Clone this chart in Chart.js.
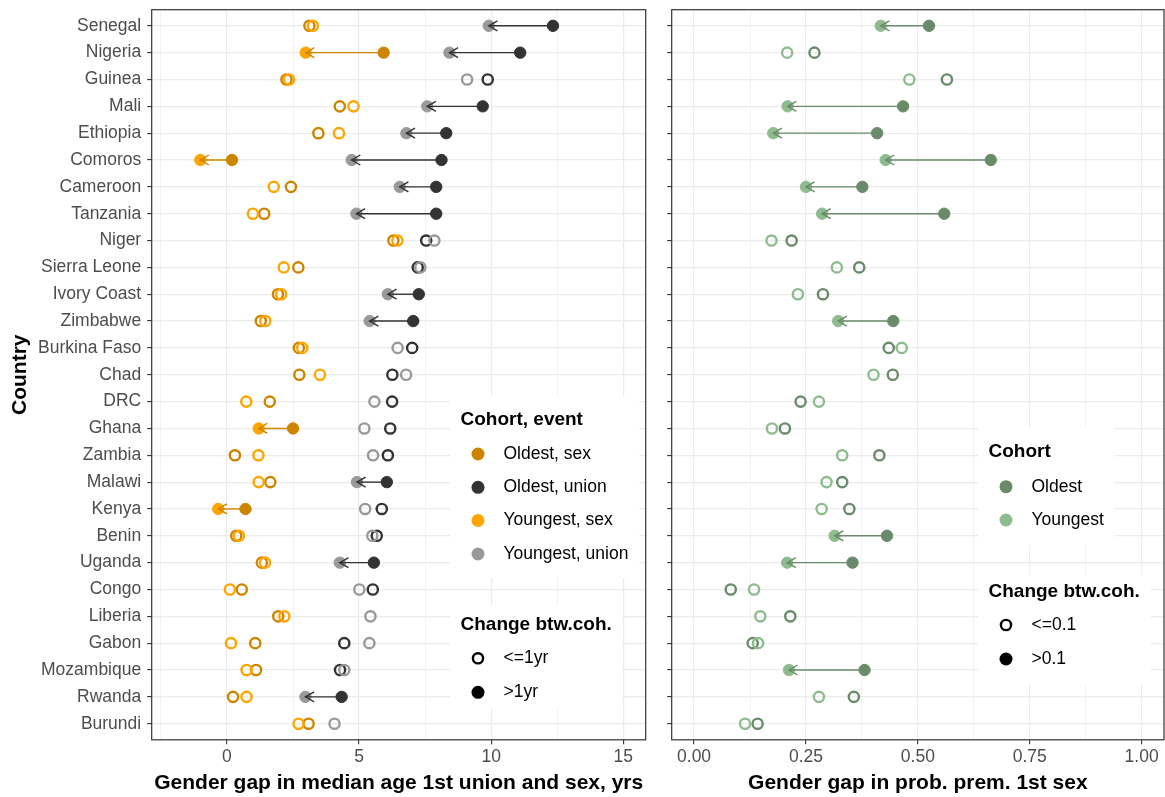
<!DOCTYPE html>
<html>
<head>
<meta charset="utf-8">
<script src="https://cdn.jsdelivr.net/npm/chart.js@4.4.1/dist/chart.umd.min.js"></script>
<style>
  html, body { margin: 0; padding: 0; background: #ffffff; }
  #wrap { position: relative; width: 1165px; height: 797px; overflow: hidden; background: #ffffff; }
  canvas { position: absolute; top: 0; }
  #ageChart { left: 0; }
  #premChart { left: 660px; }
</style>
</head>
<body>
<div id="wrap">
  <canvas id="ageChart" width="660" height="797"></canvas>
  <canvas id="premChart" width="505" height="797"></canvas>
</div>
<script>
// Countries, top to bottom
const countries = ['Senegal', 'Nigeria', 'Guinea', 'Mali', 'Ethiopia', 'Comoros', 'Cameroon', 'Tanzania',
  'Niger', 'Sierra Leone', 'Ivory Coast', 'Zimbabwe', 'Burkina Faso', 'Chad', 'DRC', 'Ghana', 'Zambia',
  'Malawi', 'Kenya', 'Benin', 'Uganda', 'Congo', 'Liberia', 'Gabon', 'Mozambique', 'Rwanda', 'Burundi'];

// Gender gap in median age at 1st sex (years)
const sexOldest   = [3.12, 5.93, 2.25, 4.27, 3.46, 0.19, 2.42, 1.41, 6.30, 2.70, 1.93, 1.28, 2.72, 2.74,
  1.62, 2.50, 0.30, 1.64, 0.70, 0.35, 1.32, 0.56, 1.94, 1.07, 1.10, 0.23, 3.09];
const sexYoungest = [3.25, 2.98, 2.35, 4.79, 4.24, -1.01, 1.77, 0.98, 6.45, 2.15, 2.05, 1.45, 2.85, 3.52,
  0.73, 1.20, 1.19, 1.20, -0.33, 0.45, 1.44, 0.11, 2.17, 0.15, 0.74, 0.74, 2.71];

// Gender gap in median age at 1st union (years)
const unionOldest   = [12.34, 11.10, 9.87, 9.68, 8.30, 8.12, 7.92, 7.92, 7.54, 7.22, 7.26, 7.05, 7.01, 6.26,
  6.25, 6.18, 6.09, 6.05, 5.86, 5.67, 5.56, 5.52, null, 4.44, 4.28, 4.34, null];
const unionYoungest = [9.91, 8.42, 9.09, 7.58, 6.79, 4.72, 6.54, 4.90, 7.85, 7.32, 6.09, 5.40, 6.46, 6.78,
  5.58, 5.20, 5.53, 4.92, 5.23, 5.50, 4.27, 5.01, 5.43, 5.39, 4.44, 2.97, 4.07];

// Gender gap in probability of premarital 1st sex
const premOldest   = [0.525, 0.269, 0.565, 0.467, 0.409, 0.663, 0.376, 0.559, 0.218, 0.369, 0.288, 0.445,
  0.435, 0.444, 0.238, 0.203, 0.414, 0.331, 0.347, 0.431, 0.354, 0.082, 0.215, 0.131, 0.381, 0.357, 0.142];
const premYoungest = [0.417, 0.208, 0.481, 0.209, 0.177, 0.428, 0.250, 0.286, 0.173, 0.319, 0.232, 0.322,
  0.464, 0.401, 0.279, 0.174, 0.331, 0.296, 0.285, 0.314, 0.208, 0.134, 0.148, 0.143, 0.212, 0.279, 0.114];

// Axis ticks (major ticks carry a label, minor ones only a grid line)
const ageTicks = [-2.5, 0, 2.5, 5, 7.5, 10, 12.5, 15];
const ageTickLabels = ['', '0', '', '5', '', '10', '', '15'];
const premTicks = [0, 0.125, 0.25, 0.375, 0.5, 0.625, 0.75, 0.875, 1];
const premTickLabels = ['0.00', '', '0.25', '', '0.50', '', '0.75', '', '1.00'];

// Thresholds for a "large" change between cohorts
const ageThreshold = 1;
const premThreshold = 0.1;

const COL = {
  sexOld: '#CD8500', sexYoung: '#FFA500',
  unionOld: '#333333', unionYoung: '#999999',
  premOld: '#698B69', premYoung: '#8FBC8F'
};
const FONT = "'Liberation Sans', Arial, Helvetica, sans-serif";
Chart.defaults.font.family = FONT;

function bigChange(a, b, thr) {
  return a != null && b != null && Math.abs(a - b) > thr;
}

// One scatter series; points are solid when the cohort change exceeds the threshold
function series(label, values, partner, thr, color, order) {
  const data = [];
  values.forEach((v, i) => {
    if (v == null) return;
    data.push({ x: v, y: i, big: bigChange(v, partner[i], thr) });
  });
  return {
    label, data, order, showLine: false,
    pointStyle: 'circle',
    pointBackgroundColor: c => (c.raw && c.raw.big) ? color : 'rgba(0,0,0,0)',
    pointBorderColor: color,
    pointBorderWidth: c => (c.raw && c.raw.big) ? 1 : 2.4,
    pointRadius: c => (c.raw && c.raw.big) ? 5.7 : 5.1,
    pointHoverRadius: c => (c.raw && c.raw.big) ? 5.7 : 5.1
  };
}

function rowScale(showLabels, width) {
  return {
    type: 'linear', reverse: true, bounds: 'data',
    min: -0.6, max: countries.length - 0.4,
    afterBuildTicks: s => { s.ticks = countries.map((_, i) => ({ value: i })); },
    afterFit: s => { s.width = width; s.paddingTop = 0; s.paddingBottom = 0; s.paddingLeft = 0; s.paddingRight = 0; },
    ticks: {
      autoSkip: false,
      callback: (v, i) => showLabels ? countries[i] : '',
      color: '#4D4D4D', font: { size: 17.5 }, padding: 6
    },
    grid: { color: '#EBEBEB', lineWidth: 1.2, tickColor: '#333333', tickLength: 4.5, tickWidth: 1.1 },
    border: { display: false },
    title: showLabels
      ? { display: true, text: 'Country', color: '#000000', font: { size: 21, weight: 'bold' }, padding: { top: 7.8, bottom: 0 } }
      : { display: false }
  };
}

function valueScale(min, max, ticks, labels, title) {
  const major = i => labels[i] !== '';
  return {
    type: 'linear', bounds: 'data', min, max,
    afterBuildTicks: s => { s.ticks = ticks.map(v => ({ value: v })); },
    afterFit: s => { s.height = 57.2; s.paddingLeft = 0; s.paddingRight = 0; s.paddingTop = 0; s.paddingBottom = 0; },
    ticks: {
      autoSkip: false, maxRotation: 0,
      callback: (v, i) => labels[i],
      color: '#4D4D4D', font: { size: 17.5 }, padding: 2.2
    },
    grid: {
      color: '#EBEBEB',
      lineWidth: c => major(c.index) ? 1.2 : 0.6,
      tickColor: c => major(c.index) ? '#333333' : 'rgba(0,0,0,0)',
      tickLength: 4.5, tickWidth: 1.1
    },
    border: { display: false },
    title: { display: true, text: title, color: '#000000', font: { size: 21, weight: 'bold' }, padding: { top: 0, bottom: 1.6 } }
  };
}

// Arrows from the oldest to the youngest cohort where the change is large
function arrowPlugin(pairs) {
  return {
    id: 'cohortArrows',
    afterDatasetsDraw(chart) {
      const { ctx, scales: { x, y } } = chart;
      ctx.save();
      ctx.lineCap = 'butt';
      pairs.forEach(p => {
        p.old.forEach((o, i) => {
          const yv = p.young[i];
          if (!bigChange(o, yv, p.thr)) return;
          const x1 = x.getPixelForValue(o), x2 = x.getPixelForValue(yv), py = y.getPixelForValue(i);
          const dir = Math.sign(x2 - x1);
          const L = 10, a = Math.PI / 6;
          ctx.strokeStyle = p.color;
          ctx.lineWidth = 1.4;
          ctx.beginPath(); ctx.moveTo(x1, py); ctx.lineTo(x2, py); ctx.stroke();
          ctx.beginPath();
          ctx.moveTo(x2 - dir * L * Math.cos(a), py - L * Math.sin(a));
          ctx.lineTo(x2, py);
          ctx.lineTo(x2 - dir * L * Math.cos(a), py + L * Math.sin(a));
          ctx.stroke();
        });
      });
      ctx.restore();
    }
  };
}

// Legend boxes drawn inside the panel, plus the panel border
function drawLegend(ctx, lg, maxRight) {
  ctx.save();
  ctx.font = `bold 19px ${FONT}`;
  let right = lg.x0 + 10.5 + ctx.measureText(lg.title).width;
  ctx.font = `17.5px ${FONT}`;
  lg.items.forEach(it => { right = Math.max(right, lg.x0 + 53.5 + ctx.measureText(it.label).width); });
  right = Math.min(right + 11, maxRight);
  ctx.fillStyle = '#ffffff';
  ctx.fillRect(lg.x0, lg.y0, right - lg.x0, lg.y1 - lg.y0);
  ctx.fillStyle = '#000000';
  ctx.textBaseline = 'middle';
  ctx.textAlign = 'left';
  ctx.font = `bold 19px ${FONT}`;
  ctx.fillText(lg.title, lg.x0 + 10.5, lg.titleY);
  lg.items.forEach(it => {
    const kx = lg.x0 + 28, ky = it.y;
    ctx.beginPath();
    if (it.filled) {
      ctx.arc(kx, ky, 6.5, 0, Math.PI * 2);
      ctx.fillStyle = it.color; ctx.fill();
    } else {
      ctx.arc(kx, ky, 5.1, 0, Math.PI * 2);
      ctx.strokeStyle = it.color; ctx.lineWidth = 2.4; ctx.stroke();
    }
    ctx.fillStyle = '#000000';
    ctx.font = `17.5px ${FONT}`;
    ctx.fillText(it.label, lg.x0 + 53.5, ky);
  });
  ctx.restore();
}

function panelPlugin(legends) {
  return {
    id: 'panelDecor',
    afterDraw(chart) {
      const { ctx, chartArea: a } = chart;
      legends.forEach(lg => drawLegend(ctx, lg, a.right));
      ctx.save();
      ctx.strokeStyle = '#333333';
      ctx.lineWidth = 1.2;
      ctx.strokeRect(a.left, a.top, a.right - a.left, a.bottom - a.top);
      ctx.restore();
    }
  };
}

const common = {
  responsive: false, animation: false, devicePixelRatio: 1, events: [],
  plugins: { legend: { display: false }, tooltip: { enabled: false } }
};

// Left panel: median ages at 1st union and 1st sex
new Chart(document.getElementById('ageChart'), {
  type: 'scatter',
  data: {
    datasets: [
      series('Oldest, sex', sexOldest, sexYoungest, ageThreshold, COL.sexOld, 2),
      series('Youngest, sex', sexYoungest, sexOldest, ageThreshold, COL.sexYoung, 1),
      series('Oldest, union', unionOldest, unionYoungest, ageThreshold, COL.unionOld, 2),
      series('Youngest, union', unionYoungest, unionOldest, ageThreshold, COL.unionYoung, 1)
    ]
  },
  options: Object.assign({}, common, {
    layout: { autoPadding: false, padding: { left: 0, top: 9.7, right: 14.3, bottom: 0 } },
    scales: {
      x: valueScale(-2.85, 15.85, ageTicks, ageTickLabels, 'Gender gap in median age 1st union and sex, yrs'),
      y: rowScale(true, 151.7)
    }
  }),
  plugins: [
    arrowPlugin([
      { old: sexOldest, young: sexYoungest, thr: ageThreshold, color: COL.sexOld },
      { old: unionOldest, young: unionYoungest, thr: ageThreshold, color: COL.unionOld }
    ]),
    panelPlugin([
      { x0: 450, y0: 396, y1: 578, title: 'Cohort, event', titleY: 420, items: [
        { label: 'Oldest, sex', color: COL.sexOld, filled: true, y: 454 },
        { label: 'Oldest, union', color: COL.unionOld, filled: true, y: 487.3 },
        { label: 'Youngest, sex', color: COL.sexYoung, filled: true, y: 520.5 },
        { label: 'Youngest, union', color: COL.unionYoung, filled: true, y: 554 }
      ] },
      { x0: 450, y0: 605, y1: 708, title: 'Change btw.coh.', titleY: 624.3, items: [
        { label: '<=1yr', color: '#000000', filled: false, y: 658.3 },
        { label: '>1yr', color: '#000000', filled: true, y: 692.3 }
      ] }
    ])
  ]
});

// Right panel: probability of premarital 1st sex
new Chart(document.getElementById('premChart'), {
  type: 'scatter',
  data: {
    datasets: [
      series('Oldest', premOldest, premYoungest, premThreshold, COL.premOld, 2),
      series('Youngest', premYoungest, premOldest, premThreshold, COL.premYoung, 1)
    ]
  },
  options: Object.assign({}, common, {
    layout: { autoPadding: false, padding: { left: 0, top: 9.7, right: 1, bottom: 0 } },
    scales: {
      x: valueScale(-0.05, 1.05, premTicks, premTickLabels, 'Gender gap in prob. prem. 1st sex'),
      y: rowScale(false, 11.7)
    }
  }),
  plugins: [
    arrowPlugin([
      { old: premOldest, young: premYoungest, thr: premThreshold, color: COL.premOld }
    ]),
    panelPlugin([
      { x0: 318, y0: 427, y1: 545, title: 'Cohort', titleY: 451.7, items: [
        { label: 'Oldest', color: COL.premOld, filled: true, y: 486.7 },
        { label: 'Youngest', color: COL.premYoung, filled: true, y: 520 }
      ] },
      { x0: 318, y0: 575, y1: 685, title: 'Change btw.coh.', titleY: 591.7, items: [
        { label: '<=0.1', color: '#000000', filled: false, y: 625 },
        { label: '>0.1', color: '#000000', filled: true, y: 659 }
      ] }
    ])
  ]
});
</script>
</body>
</html>
